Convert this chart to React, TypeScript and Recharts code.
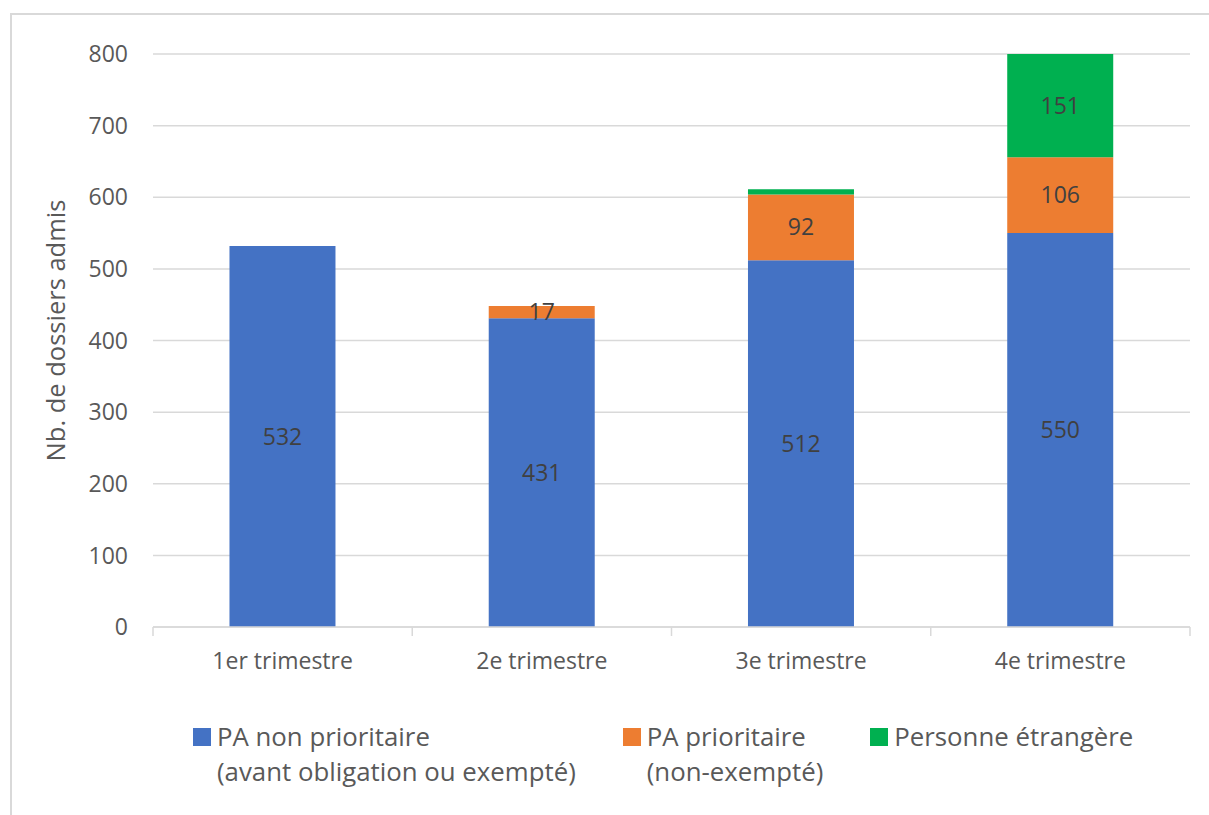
import React from 'react';
import {
  BarChart,
  Bar,
  XAxis,
  YAxis,
  CartesianGrid,
  LabelList,
  Legend,
} from 'recharts';

// Quarter categories
const quarters = ['1er trimestre', '2e trimestre', '3e trimestre', '4e trimestre'];

// Admitted files per quarter, by type
const nonPrioritaire = [532, 431, 512, 550];
const prioritaire: (number | null)[] = [null, 17, 92, 106];
const etrangere: (number | null)[] = [null, null, 7, 151];

// Y axis ticks
const yTicks = [0, 100, 200, 300, 400, 500, 600, 700, 800];
// Category boundaries on the auxiliary index axis (which spans 0..3 across the plot)
const boundaryTicks = [0, 0.75, 1.5, 2.25, 3];

const legendItems = [
  { key: 'np', color: '#4472C4', lines: ['PA non prioritaire', '(avant obligation ou exempté)'] },
  { key: 'p', color: '#ED7D31', lines: ['PA prioritaire', '(non-exempté)'] },
  { key: 'e', color: '#00B050', lines: ['Personne étrangère'] },
];

const data = quarters.map((q, i) => ({
  quarter: q,
  np: nonPrioritaire[i],
  p: prioritaire[i],
  e: etrangere[i],
}));

const FONT = '"Open Sans", "Noto Sans", sans-serif';
const AXIS_COLOR = '#595959';
const LINE_COLOR = '#D9D9D9';

const hideSmall = (v: any) => (typeof v === 'number' && v < 10 ? '' : v);

const LegendBlock = () => (
  <div
    style={{
      display: 'flex',
      alignItems: 'flex-start',
      paddingLeft: 193,
      gap: 47,
      fontFamily: FONT,
      fontSize: 25.8,
      color: AXIS_COLOR,
      lineHeight: '35px',
    }}
  >
    {legendItems.map((it) => (
      <div key={it.key} style={{ display: 'flex', alignItems: 'flex-start' }}>
        <div style={{ width: 18, height: 18, background: it.color, marginTop: 9, marginRight: 6 }} />
        <div>
          {it.lines.map((l) => (
            <div key={l} style={{ whiteSpace: 'nowrap' }}>{l}</div>
          ))}
        </div>
      </div>
    ))}
  </div>
);

const YLabel = (props: any) => {
  const vb = props.viewBox || {};
  const cx = 55;
  const cy = vb.y + vb.height / 2 - 10;
  return (
    <text
      x={cx}
      y={cy}
      transform={`rotate(-90, ${cx}, ${cy})`}
      textAnchor="middle"
      dominantBaseline="central"
      fill={AXIS_COLOR}
      fontSize={25.5}
      fontFamily={FONT}
    >
      Nb. de dossiers admis
    </text>
  );
};

export default function App() {
  return (
    <div
      style={{
        position: 'absolute',
        left: 0,
        top: 0,
        width: 1209,
        height: 815,
        background: '#ffffff',
        overflow: 'hidden',
        fontFamily: FONT,
      }}
    >
      <div
        style={{
          position: 'absolute',
          left: 10,
          top: 13,
          width: 1209,
          height: 815,
          borderLeft: `2px solid ${LINE_COLOR}`,
          borderTop: `2px solid ${LINE_COLOR}`,
        }}
      />
      <div style={{ position: 'absolute', left: 0, top: 0 }}>
        <BarChart
          width={1209}
          height={815}
          data={data}
          margin={{ top: 54, right: 19, bottom: 127, left: 0 }}
          barCategoryGap="29.5%"
        >
          <CartesianGrid stroke={LINE_COLOR} strokeWidth={1.5} vertical={false} xAxisId="cat" />
          <XAxis
            xAxisId="cat"
            dataKey="quarter"
            axisLine={false}
            tickLine={false}
            tickSize={6}
            tickMargin={19}
            height={60}
            tick={{ fill: AXIS_COLOR, fontSize: 23, fontFamily: FONT }}
            interval={0}
          />
          <XAxis
            xAxisId="aMarks"
            type="number"
            domain={[0, 3]}
            ticks={boundaryTicks}
            tickFormatter={() => ''}
            axisLine={{ stroke: LINE_COLOR, strokeWidth: 1.5 }}
            tickLine={{ stroke: LINE_COLOR, strokeWidth: 1.5 }}
            tickSize={9}
            height={1}
          />
          <YAxis
            width={153}
            domain={[0, 800]}
            ticks={yTicks}
            allowDataOverflow
            axisLine={false}
            tickLine={false}
            tickSize={6}
            tickMargin={19}
            tick={{ fill: AXIS_COLOR, fontSize: 23, fontFamily: FONT }}
            label={<YLabel />}
          />
          <Legend
            layout="horizontal"
            verticalAlign="middle"
            align="center"
            wrapperStyle={{ top: 719, left: 0, width: 1209 }}
            content={<LegendBlock />}
          />
          <Bar dataKey="np" stackId="a" xAxisId="cat" fill="#4472C4" isAnimationActive={false}>
            <LabelList dataKey="np" position="center" fill="#404040" fontSize={23} fontFamily={FONT} formatter={hideSmall} />
          </Bar>
          <Bar dataKey="p" stackId="a" xAxisId="cat" fill="#ED7D31" isAnimationActive={false}>
            <LabelList dataKey="p" position="center" fill="#404040" fontSize={23} fontFamily={FONT} formatter={hideSmall} />
          </Bar>
          <Bar dataKey="e" stackId="a" xAxisId="cat" fill="#00B050" isAnimationActive={false}>
            <LabelList dataKey="e" position="center" fill="#404040" fontSize={23} fontFamily={FONT} formatter={hideSmall} />
          </Bar>
        </BarChart>
      </div>
    </div>
  );
}
